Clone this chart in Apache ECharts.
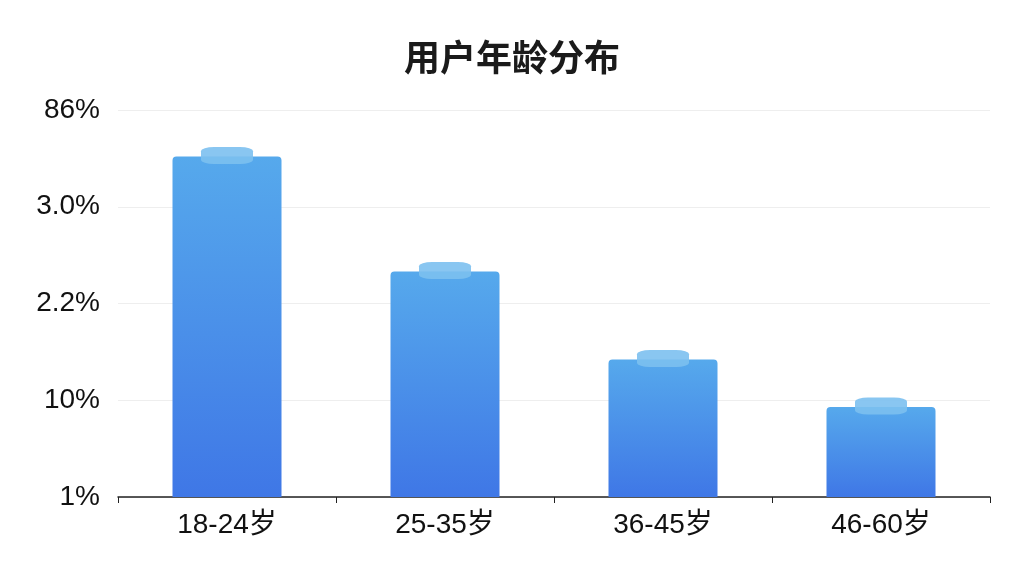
<!DOCTYPE html>
<html>
<head>
    <meta charset="utf-8">
    <title>用户年龄分布</title>
    <style>
        body{ margin: 0; background: #fff; }
        #chart{ width: 1024px; height: 576px; }
    </style>
    <script src="https://cdn.jsdelivr.net/npm/echarts@6/dist/echarts.min.js"></script>
</head>
<body>
<div id="chart"></div>
<script>
    // 年龄段
    var categories = ['18-24岁', '25-35岁', '36-45岁', '46-60岁'];
    // 柱高（按刻度单位读取）
    var values = [35.2, 23.3, 14.2, 9.3];
    // 纵轴刻度文字（原图即如此）
    var tickLabels = ['1%', '10%', '2.2%', '3.0%', '86%'];

    var myChart = echarts.init(document.getElementById('chart'));
    var option = {
        title: {
            text: '用户年龄分布',
            left: 'center',
            top: 34,
            textStyle: { fontSize: 36, fontWeight: 'bold', color: '#1a1a1a', fontFamily: 'Noto Sans CJK SC' }
        },
        grid: { left: 118, right: 34, top: 110, bottom: 79 },
        xAxis: {
            type: 'category',
            data: categories,
            axisLine: { lineStyle: { color: '#222', width: 1.5 } },
            axisTick: { show: true, length: 6, lineStyle: { color: '#222' } },
            axisLabel: { fontSize: 28, color: '#111', margin: 14, fontFamily: 'Liberation Sans, Noto Sans CJK SC' }
        },
        yAxis: {
            type: 'value',
            min: 0,
            max: 40,
            interval: 10,
            axisLine: { show: false },
            axisTick: { show: false },
            splitLine: { lineStyle: { color: '#eeeeee' } },
            axisLabel: {
                fontSize: 28, color: '#111', margin: 18, fontFamily: 'Liberation Sans',
                formatter: function (v) { return tickLabels[Math.round(v / 10)]; }
            }
        },
        series: [
            {
                type: 'bar',
                data: values,
                barWidth: '50%',
                itemStyle: {
                    borderRadius: [4, 4, 0, 0],
                    color: new echarts.graphic.LinearGradient(0, 0, 0, 1, [
                        { offset: 0, color: '#56a9ec' },
                        { offset: 1, color: '#3f77e6' }
                    ])
                }
            },
            {
                // 柱顶浅色小标签
                type: 'scatter',
                data: values,
                symbol: 'roundRect',
                symbolSize: [52, 17],
                symbolOffset: [0, -1],
                itemStyle: { color: '#7cc0f0', opacity: 0.9 },
                z: 5
            }
        ]
    };
    myChart.setOption(option);
</script>
</body>
</html>
